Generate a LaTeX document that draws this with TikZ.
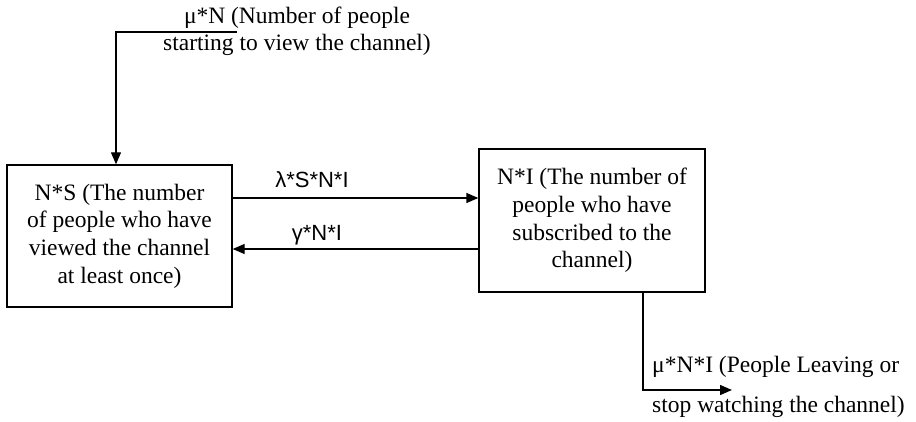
\documentclass[tikz,border=0pt]{standalone}
\usepackage{fontspec}
\setmainfont{Liberation Serif}
\newfontfamily\labelfont{Liberation Sans}
\usetikzlibrary{arrows.meta}
\tikzset{
  box/.style={draw, line width=1.4pt, align=center, inner sep=0pt,
    font=\fontsize{23.5}{27.6}\selectfont},
  arr/.style={line width=1.4pt, -{Triangle[length=12pt,width=10pt]}},
  lbl/.style={font=\labelfont\fontsize{22}{26}\selectfont, inner sep=0pt},
  txt/.style={font=\fontsize{23.5}{27}\selectfont, inner sep=0pt}
}
\begin{document}
\begin{tikzpicture}[x=1pt,y=-1pt]
\useasboundingbox (0,0) rectangle (916,422);
\node[box, minimum width=225pt, minimum height=142pt] (L) at (119.5,236)
  {N*S (The number\\of people who have\\viewed the channel\\at least once)};
\node[box, minimum width=226pt, minimum height=143pt] (R) at (592,220.5)
  {N*I (The number of\\people who have\\subscribed to the\\channel)};
\draw[arr] ([yshift=38pt]L.east) -- ([yshift=38pt]L.east -| R.west);
\draw[arr] ([yshift=-13pt]L.east -| R.west) -- ([yshift=-13pt]L.east);
\node[lbl] (l1) at (312,180) {λ*S*N*I};
\node[lbl] (l2) at (317,235) {γ*N*I};
\node[txt, align=center] (top) at (297,31.5) {μ*N (Number of people\\starting to view the channel)};
\coordinate (t) at (237,32);
\draw[arr] (t) -| ([xshift=-3.5pt]L.north);
\coordinate (e) at (732,390);
\draw[arr] ([xshift=51pt]R.south) |- (e);
\node[txt, align=left, anchor=west, font=\fontsize{23.5}{40}\selectfont] (bot) at (652,387)
  {μ*N*I (People Leaving or\\stop watching the channel)};
\end{tikzpicture}
\end{document}
